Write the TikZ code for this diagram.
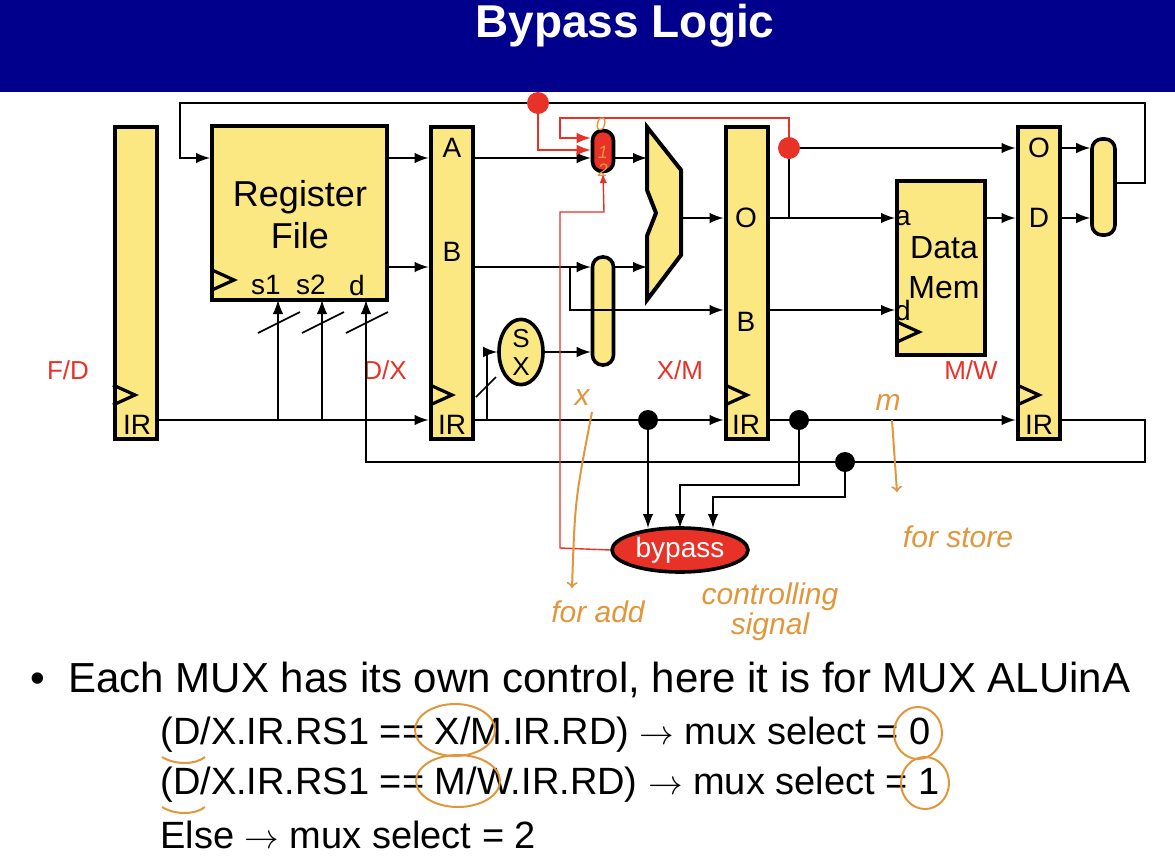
\documentclass[tikz,border=0pt]{standalone}
\usepackage{fontspec}
\setmainfont{Liberation Sans}
\usetikzlibrary{calc, positioning, arrows, shapes.geometric}
\definecolor{navy}{RGB}{0,0,140}
\definecolor{latchyellow}{RGB}{252,232,130}
\definecolor{sigred}{RGB}{232,50,40}
\definecolor{penorange}{RGB}{225,150,60}

\tikzset{
  latch/.style={draw, line width=2pt, fill=latchyellow, minimum width=21pt, minimum height=156pt, inner sep=0pt},
  box/.style={draw, line width=2pt, fill=latchyellow, inner sep=0pt},
  capsule/.style={draw, line width=1.8pt, fill=latchyellow, rounded corners=5pt, inner sep=0pt},
  wire/.style={line width=1.4pt, -latex},
  plain/.style={line width=1.4pt},
  redwire/.style={sigred, line width=1.4pt, -latex},
  thinred/.style={sigred, line width=0.7pt, -latex},
  dot/.style={circle, fill, inner sep=0pt, minimum size=10pt},
  lbl/.style={font=\fontsize{14}{14}\selectfont, inner sep=0pt},
  stage/.style={sigred, font=\fontsize{13}{13}\selectfont, inner sep=0pt},
  pen/.style={penorange, font=\fontsize{15}{15}\itshape\selectfont, inner sep=0pt},
  penline/.style={penorange, line width=1pt},
  clk/.style={line width=1.6pt}
}

\begin{document}
\begin{tikzpicture}[x=0.5pt, y=-0.5pt]
  \useasboundingbox (0,0) rectangle (1175,863);

  % title bar
  \fill[navy] (0,0) rectangle (1175,92);
  \node[white, font=\fontsize{23}{23}\bfseries\selectfont] (title) at (625,26) {Bypass Logic};

  % pipeline latches
  \node[latch] (fd) at (135.5,283) {};
  \node[latch] (dx) at (451.5,283) {};
  \node[latch] (xm) at (746.5,283) {};
  \node[latch] (mw) at (1038.5,283) {};
  \foreach \n/\x in {fd/113, dx/430, xm/725, mw/1017}
    \draw[clk] (\x,385) -- (\x+22,395) -- (\x,405);

  % latch labels
  \node[lbl] (fdir) at (137,425) {IR};
  \node[lbl] (dxa) at (452,148) {A};
  \node[lbl] (dxb) at (452,252) {B};
  \node[lbl] (dxir) at (452,425) {IR};
  \node[lbl] (xmo) at (746,218) {O};
  \node[lbl] (xmb) at (746,322) {B};
  \node[lbl] (xmir) at (746,425) {IR};
  \node[lbl] (mwo) at (1039,148) {O};
  \node[lbl] (mwd) at (1039,218) {D};
  \node[lbl] (mwir) at (1039,425) {IR};

  % stage names
  \node[stage] (lfd) at (68,370) {F/D};
  \node[stage] (ldx) at (385,370) {D/X};
  \node[stage] (lxm) at (680,370) {X/M};
  \node[stage] (lmw) at (971,370) {M/W};

  % register file
  \node[box, minimum width=87.5pt, minimum height=87pt] (rf) at (299.5,213) {};
  \node[font=\fontsize{18}{21}\selectfont, align=center] (rft) at (300,215) {Register\\File};
  \draw[clk] (212,270) -- (234,280) -- (212,290);
  \node[lbl] (s1) at (266,285) {s1};
  \node[lbl] (s2) at (311,285) {s2};
  \node[lbl] (rd) at (357,285) {d};

  % data memory
  \node[box, minimum width=44pt, minimum height=87pt] (dm) at (941,268) {};
  \node[font=\fontsize{16}{20}\selectfont, align=center] (dmt) at (944,268) {Data\\Mem};
  \draw[clk] (897,322) -- (919,332) -- (897,342);
  \node[lbl] (dma) at (903,218) {a};
  \node[lbl] (dmd) at (903,310) {d};

  % ALU
  \draw[box] (647,127) -- (681,170) -- (681,255) -- (647,300) -- (647,236)
    -- (656,213) -- (647,190) -- cycle;
  \coordinate (alu) at (664,213);

  % muxes and sign extend
  \node[capsule, fill=sigred, minimum width=10.5pt, minimum height=20.5pt] (muxa) at (603,151) {};
  \node[capsule, minimum width=10.5pt, minimum height=54pt] (muxb) at (603,311) {};
  \node[capsule, minimum width=11.5pt, minimum height=48pt] (muxw) at (1103.5,187) {};
  \node[draw, line width=1.8pt, fill=latchyellow, ellipse, minimum width=22pt, minimum height=31pt, inner sep=0pt,
    align=center, font=\fontsize{13}{14}\selectfont] (sx) at (521,352) {S\\X};
  \node[draw, line width=1.8pt, fill=sigred, ellipse, minimum width=68pt, minimum height=22pt, inner sep=0pt,
    text=white, font=\fontsize{14}{14}\selectfont] (byp) at (680,550) {bypass};

  % data paths
  \draw[wire] (387,158) -- (dx.west |- 0,158);
  \draw[wire] (387,267) -- (dx.west |- 0,267);
  \draw[wire] (dx.east |- 0,158) -- (muxa.west |- 0,158);
  \draw[wire] (muxa.east |- 0,158) -- (647,158);
  \draw[wire] (dx.east |- 0,267) -- (muxb.west |- 0,267);
  \draw[wire] (muxb.east |- 0,267) -- (647,267);
  \draw[wire] (570,267) -- (570,310) -- (xm.west |- 0,310);
  \draw[wire] (sx.east) -- (muxb.west |- sx.east);
  \draw[wire] (681,218) -- (xm.west |- 0,218);
  \draw[wire] (xm.east |- 0,218) -- (dm.west |- 0,218);
  \draw[wire] (xm.east |- 0,310) -- (dm.west |- 0,310);
  \draw[wire] (789,218) -- (789,148) -- (mw.west |- 0,148);
  \draw[wire] (dm.east |- 0,218) -- (mw.west |- 0,218);
  \draw[wire] (mw.east |- 0,148) -- (muxw.west |- 0,148);
  \draw[wire] (mw.east |- 0,218) -- (muxw.west |- 0,218);
  \draw[wire] (muxw.east |- 0,183) -- (1145,183) -- (1145,103) -- (180,103) -- (180,158) -- (rf.west |- 0,158);

  % instruction register paths
  \draw[wire] (fd.east |- 0,420) -- (dx.west |- 0,420);
  \draw[wire] (278,420) -- (278,300);
  \draw[wire] (322,420) -- (322,300);
  \draw[wire] (dx.east |- 0,420) -- (xm.west |- 0,420);
  \draw[wire] (487,420) -- (487,352) -- (sx.west);
  \draw[wire] (xm.east |- 0,420) -- (mw.west |- 0,420);
  \draw[wire] (mw.east |- 0,420) -- (1145,420) -- (1145,462) -- (366,462) -- (366,300);
  \foreach \x in {258, 302, 346}
    \draw[line width=0.8pt] (\x,333) -- (\x+42,312);
  \draw[line width=0.8pt] (476,397) -- (496,377);

  % taps into bypass logic
  \node[dot] (t1) at (648,420) {};
  \node[dot] (t2) at (799,420) {};
  \node[dot] (t3) at (845,462) {};
  \draw[wire] (t1) -- (648,528);
  \draw[wire] (t2) -- (799,485) -- (680,485) -- (680,528);
  \draw[wire] (t3) -- (845,497) -- (713,497) -- (713,528);

  % bypass signals
  \node[dot, sigred, minimum size=11pt] (r1) at (538,103) {};
  \node[dot, sigred, minimum size=11pt] (r2) at (789,148) {};
  \draw[redwire] (r1) -- (538,150) -- (muxa.west |- 0,150);
  \draw[redwire] (r2) -- (789,118) -- (560,118) -- (560,138) -- (muxa.west |- 0,138);
  \draw[thinred] (byp.west) -- (560,548) -- (560,212) -- (604,212) -- (muxa.south);

  % handwritten notes
  \node[pen, font=\fontsize{9}{9}\itshape\selectfont] (n0) at (601,124) {0};
  \node[pen, font=\fontsize{9}{9}\itshape\selectfont] (n1) at (603,152) {1};
  \node[pen, font=\fontsize{9}{9}\itshape\selectfont] (n2) at (603,170) {2};
  \node[pen] (nx) at (582,398) {x};
  \node[pen] (nm) at (888,402) {m};
  \node[pen] (nadd) at (598,612) {for add};
  \node[pen, align=center] (nctl) at (770,612) {controlling\\signal};
  \node[pen] (nstore) at (958,537) {for store};
  \draw[penline, ->] (592,412) .. controls (575,500) .. (572,588);
  \draw[penline, ->] (892,420) -- (897,492);

  % explanation
  \node[anchor=west, font=\fontsize{21}{21}\selectfont, inner sep=0pt] (t0) at (30,680)
    {\textbullet\ \ Each MUX has its own control, here it is for MUX ALUinA};
  \node[anchor=west, font=\fontsize{19}{19}\selectfont, inner sep=0pt] (tl1) at (160,735)
    {(D/X.IR.RS1 == X/M.IR.RD) $\rightarrow$ mux select = 0};
  \node[anchor=west, font=\fontsize{19}{19}\selectfont, inner sep=0pt] (tl2) at (160,785)
    {(D/X.IR.RS1 == M/W.IR.RD) $\rightarrow$ mux select = 1};
  \node[anchor=west, font=\fontsize{19}{19}\selectfont, inner sep=0pt] (tl3) at (160,835)
    {Else $\rightarrow$ mux select = 2};
  \foreach \cx/\cy/\rx in {455/730/40, 918/733/24, 458/781/42, 925/783/24}
    \draw[penline] (\cx,\cy) ellipse ({\rx*0.5pt} and 13pt);
  \foreach \y in {757, 807}
    \draw[penline] (162,\y) .. controls (175,\y+8) and (195,\y+8) .. (205,\y);
\end{tikzpicture}
\end{document}
